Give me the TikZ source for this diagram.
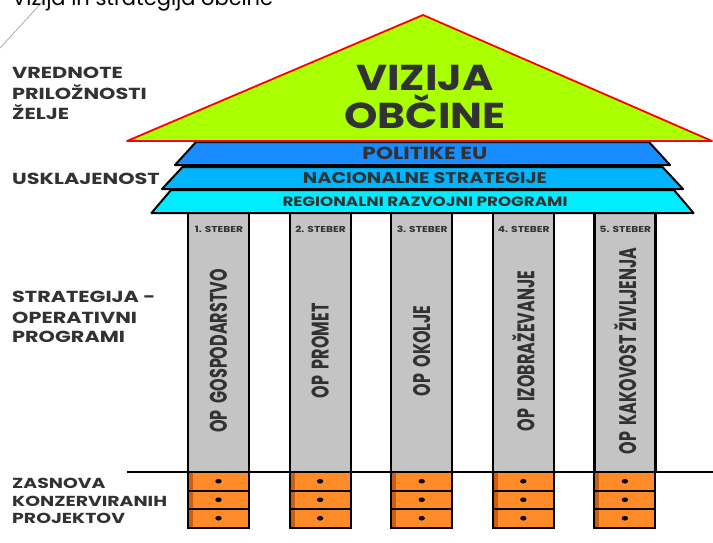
\documentclass[tikz,border=0pt]{standalone}
\usepackage{fontspec}
\setmainfont{Poppins}
\newfontfamily\sidefont[FakeStretch=1.3]{Poppins}
\newfontfamily\layerfont[FakeStretch=1.24]{Poppins}
\newfontfamily\rooffont[FakeStretch=1.18]{Poppins}
\usepackage{graphicx}
\definecolor{roofgreen}{RGB}{170,255,0}
\definecolor{eublue}{RGB}{25,140,255}
\definecolor{natblue}{RGB}{0,180,255}
\definecolor{regcyan}{RGB}{0,236,255}
\definecolor{pillargray}{RGB}{196,196,196}
\definecolor{draweror}{RGB}{255,138,40}
\definecolor{drawerdark}{RGB}{200,95,20}
\definecolor{txtgray}{RGB}{50,50,50}
\definecolor{slideline}{RGB}{165,172,188}
\tikzset{
  sidelabel/.style={anchor=base west,inner sep=0pt,text=txtgray,font=\sidefont\bfseries\fontsize{16}{18}\selectfont},
  layer/.style={draw=black,line width=2pt,line join=round},
  layertext/.style={anchor=base,inner sep=0pt,text=txtgray},
  roof/.style={fill=roofgreen,draw=red,line width=1.8pt,line join=round},
  rooftext/.style={anchor=base,inner sep=0pt,text=txtgray,font=\rooffont\bfseries\fontsize{36}{40}\selectfont},
  pillar/.style={draw=black,line width=2.2pt,fill=pillargray},
  steber/.style={inner sep=0pt,text=txtgray,font=\layerfont\bfseries\fontsize{8.6}{9}\selectfont},
  optext/.style={rotate=90,inner sep=0pt,text=txtgray,font=\bfseries\fontsize{24}{26}\selectfont},
}
\begin{document}
\begin{tikzpicture}[x=1pt,y=-1pt]
  \useasboundingbox (0,0) rectangle (713,542);
  % slide title, cut by the page
  \draw[slideline,line width=0.8pt] (0,48) -- (45,-1);
  \node[anchor=base west,inner sep=0pt,font=\fontsize{21}{26}\selectfont] (title) at (12,5) {Vizija in strategija občine};
  % labels on the left
  \foreach \txt/\y [count=\i] in {VREDNOTE/78,PRILOŽNOSTI/99,ŽELJE/119}
    \node[sidelabel] (vred\i) at (12,\y) {\txt};
  \node[sidelabel] (usklad) at (12,184) {USKLAJENOST};
  \foreach \txt/\y [count=\i] in {STRATEGIJA -/302,OPERATIVNI/323,PROGRAMI/342}
    \node[sidelabel] (strat\i) at (12,\y) {\txt};
  \foreach \txt/\y [count=\i] in {ZASNOVA/488,KONZERVIRANIH/506,PROJEKTOV/523}
    \node[sidelabel,font=\sidefont\bfseries\fontsize{14.5}{16}\selectfont] (zasn\i) at (12,\y) {\txt};
  % ground line
  \draw[line width=1.5pt] (127,472) -- (713,472);
  % pillars with drawers
  \foreach \i/\op in {1/GOSPODARSTVO,2/PROMET,3/OKOLJE,4/IZOBRAŽEVANJE,5/KAKOVOST ŽIVLJENJA}{
    \pgfmathsetmacro\xl{188+101.6*(\i-1)}
    \filldraw[pillar] (\xl,213) rectangle ++(61,259);
    \node[steber] (st\i) at (\xl+31,229) {\i. STEBER};
    \node[optext] (op\i) at (\xl+30.5,351) {\scalebox{0.665}[1]{OP\ \ \op}};
    \foreach \r in {0,1,2}{
      \fill[draweror] (\xl,472+18.5*\r) rectangle ++(61,18.5);
      \fill[drawerdark] (\xl,472+18.5*\r) rectangle ++(5,18.5);
      \draw[line width=2pt] (\xl,472+18.5*\r) rectangle ++(61,18.5);
      \fill (\xl+30.5,481.25+18.5*\r) ellipse (3.2 and 2.3);
    }
  }
  % layers under the roof
  \foreach \nm/\col/\yt/\yb/\wt/\wb/\fs/\txt in {
      reg/regcyan/190/213/251.5/271/13.5/REGIONALNI RAZVOJNI PROGRAMI,
      nac/natblue/167/189/240/260.5/15.5/NACIONALNE STRATEGIJE,
      eu/eublue/142/165/226.5/247.5/17.5/POLITIKE EU}{
    \filldraw[layer,fill=\col] (422.5-\wt,\yt) -- (422.5+\wt,\yt) -- (422.5+\wb,\yb) -- (422.5-\wb,\yb) -- cycle;
    \node[layertext,font=\layerfont\bfseries\fontsize{\fs}{\fs}\selectfont] (\nm) at (425,{(\yt+\yb)/2+0.35*\fs}) {\txt};
  }
  % roof
  \filldraw[roof] (127,141) -- (423,15) -- (712,141) -- cycle;
  \node[rooftext] (vizija) at (425,90) {VIZIJA};
  \node[rooftext] (obcine) at (425,128) {OBČINE};
\end{tikzpicture}
\end{document}
